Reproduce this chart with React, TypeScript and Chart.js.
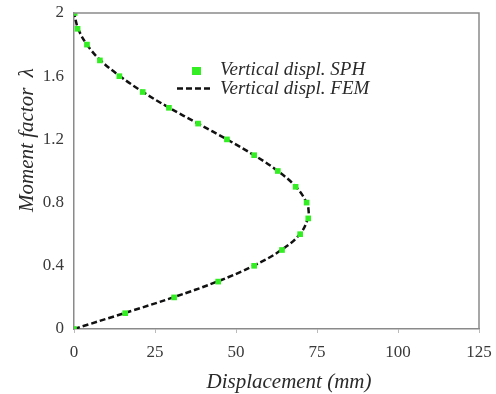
import React, { useEffect, useRef } from "react";
import { Chart, registerables } from "chart.js";

Chart.register(...registerables);

const lambdaValues = [0, 0.1, 0.2, 0.3, 0.4, 0.5, 0.6, 0.7, 0.8, 0.9, 1.0, 1.1, 1.2, 1.3, 1.4, 1.5, 1.6, 1.7, 1.8, 1.9, 2.0];
const sphDispl = [0, 15.8, 30.9, 44.5, 55.6, 64.2, 69.8, 72.3, 71.8, 68.4, 62.9, 55.6, 47.2, 38.3, 29.3, 21.2, 14.0, 8.0, 4.0, 1.1, 0.2];
const femLambda = [0, 0.1, 0.2, 0.3, 0.4, 0.5, 0.6, 0.7, 0.75, 0.8, 0.9, 1.0, 1.1, 1.2, 1.3, 1.4, 1.5, 1.6, 1.7, 1.8, 1.9, 2.0];
const femDispl = [0, 15.5, 30.6, 44.2, 55.4, 64.0, 69.7, 72.2, 72.4, 71.8, 68.5, 62.9, 55.6, 47.2, 38.3, 29.4, 21.3, 14.2, 8.2, 4.0, 1.3, 0];
const xTicks = [0, 25, 50, 75, 100, 125];
const yTicks = [0, 0.4, 0.8, 1.2, 1.6, 2];
const legendLabels = ["Vertical displ. SPH", "Vertical displ. FEM"];
const xTitle = "Displacement (mm)";
const yTitle = "Moment factor  \u03bb";

const SERIF = "'Liberation Serif', 'DejaVu Serif', serif";

export default function App() {
  const ref = useRef<HTMLCanvasElement | null>(null);
  useEffect(() => {
    const canvas = ref.current;
    if (!canvas) return;
    const decor = {
      id: "decor",
      afterDraw(chart: any) {
        const { ctx, chartArea } = chart;
        const { left, right, top, bottom } = chartArea;
        ctx.save();
        // frame top & right
        ctx.strokeStyle = "#8a8a8a";
        ctx.lineWidth = 1.5;
        ctx.beginPath();
        ctx.moveTo(left, top);
        ctx.lineTo(right, top);
        ctx.lineTo(right, bottom);
        ctx.stroke();
        // legend
        ctx.fillStyle = "#33ee22";
        ctx.fillRect(192, 67, 9, 8);
        ctx.strokeStyle = "#111";
        ctx.lineWidth = 2.5;
        ctx.setLineDash([6, 3]);
        ctx.beginPath();
        ctx.moveTo(177, 88.5);
        ctx.lineTo(213, 88.5);
        ctx.stroke();
        ctx.setLineDash([]);
        ctx.fillStyle = "#2a2a2a";
        ctx.font = "italic 19px " + SERIF;
        ctx.textBaseline = "middle";
        ctx.textAlign = "left";
        ctx.fillText(legendLabels[0], 220, 70);
        ctx.fillText(legendLabels[1], 220, 89);
        // axis titles
        ctx.font = "italic 21px " + SERIF;
        ctx.textAlign = "center";
        ctx.fillText(xTitle, 289, 382);
        ctx.translate(27, 140);
        ctx.rotate(-Math.PI / 2);
        ctx.fillText(yTitle, 0, 0);
        ctx.restore();
      },
    };
    const chart = new Chart(canvas, {
      type: "scatter",
      data: {
        datasets: [
          {
            label: legendLabels[0],
            data: lambdaValues.map((l, i) => ({ x: sphDispl[i], y: l })),
            pointStyle: "rect",
            pointRadius: 4,
            backgroundColor: "#33ee22",
            borderColor: "#33ee22",
            borderWidth: 0,
            showLine: false,
            order: 1,
          },
          {
            label: legendLabels[1],
            data: femLambda.map((l, i) => ({ x: femDispl[i], y: l })),
            showLine: true,
            pointRadius: 0,
            borderColor: "#111",
            borderWidth: 2.5,
            borderDash: [6, 3],
            tension: 0.4,
            order: 2,
          },
        ],
      },
      options: {
        animation: false,
        responsive: false,
        layout: { padding: { top: 13, right: 17, left: 0, bottom: 0 } },
        plugins: { legend: { display: false }, tooltip: { enabled: false } },
        scales: {
          x: {
            type: "linear",
            min: 0,
            max: 125,
            afterBuildTicks: (s: any) => {
              s.ticks = xTicks.map((v) => ({ value: v }));
            },
            afterFit: (s: any) => {
              s.height = 65;
              s.paddingLeft = 0;
              s.paddingRight = 0;
            },
            ticks: { font: { family: SERIF, size: 17 }, color: "#3a3a3a", padding: 9 },
            grid: { drawOnChartArea: false, tickLength: 4, color: "#bbb" },
            border: { color: "#8a8a8a", width: 1.5 },
          },
          y: {
            type: "linear",
            min: 0,
            max: 2,
            afterBuildTicks: (s: any) => {
              s.ticks = yTicks.map((v) => ({ value: v }));
            },
            afterFit: (s: any) => {
              s.width = 74;
              s.paddingTop = 0;
              s.paddingBottom = 0;
            },
            ticks: {
              font: { family: SERIF, size: 17 },
              color: "#3a3a3a",
              padding: 10,
              callback: (v: any) => String(+Number(v).toFixed(1)),
            },
            grid: { drawOnChartArea: false, tickLength: 0, color: "transparent" },
            border: { color: "#8a8a8a", width: 1.5 },
          },
        },
      },
      plugins: [decor],
    });
    return () => chart.destroy();
  }, []);
  return (
    <div style={{ position: "fixed", left: 0, top: 0, width: 496, height: 394, background: "#fff" }}>
      <canvas ref={ref} width={496} height={394} style={{ width: 496, height: 394 }} />
    </div>
  );
}
